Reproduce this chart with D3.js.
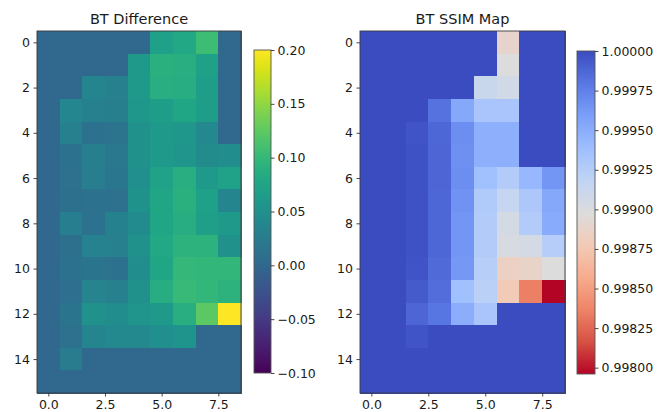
<!DOCTYPE html>
<html>
<head>
<meta charset="utf-8">
<script src="https://cdn.jsdelivr.net/npm/d3@7"></script>
<style>
  body { margin: 0; background: #fff; }
  text { font-family: "DejaVu Sans", sans-serif; fill: #1a1a1a; }
</style>
</head>
<body>
<svg id="chart" width="662" height="412"></svg>
<script>
// Grid dimensions and tick labels
const rowIndex = d3.range(16);
const colIndex = d3.range(9);
const xTickValues = [0, 2.5, 5, 7.5];
const yTickValues = [0, 2, 4, 6, 8, 10, 12, 14];
const diffTickValues = [-0.1, -0.05, 0, 0.05, 0.1, 0.15, 0.2];
const ssimTickValues = [0.998, 0.99825, 0.9985, 0.99875, 0.999, 0.99925, 0.9995, 0.99975, 1.0];
const diffRange = [-0.1, 0.2];
const ssimRange = [0.99796, 1.0];

// Brightness-temperature difference, one row per line
const diffValues = [
  [0, 0,     0,     0,     0,     0.069, 0.080, 0.106, 0],
  [0, 0,     0,     0,     0.062, 0.090, 0.088, 0.070, 0],
  [0, 0,     0.036, 0.030, 0.062, 0.088, 0.087, 0.066, 0],
  [0, 0.038, 0.029, 0.028, 0.060, 0.066, 0.078, 0.066, 0],
  [0, 0.030, 0.013, 0.014, 0.050, 0.062, 0.060, 0.041, 0],
  [0, 0.012, 0.028, 0.020, 0.050, 0.062, 0.057, 0.045, 0.046],
  [0, 0.011, 0.026, 0.018, 0.048, 0.073, 0.088, 0.062, 0.073],
  [0, 0.010, 0.013, 0.011, 0.052, 0.078, 0.091, 0.069, 0.036],
  [0, 0.027, 0.012, 0.031, 0.044, 0.078, 0.087, 0.068, 0.062],
  [0, 0.010, 0.033, 0.030, 0.050, 0.080, 0.093, 0.093, 0.050],
  [0, 0.012, 0.016, 0.013, 0.046, 0.078, 0.100, 0.098, 0.098],
  [0, 0.007, 0.035, 0.030, 0.050, 0.087, 0.102, 0.098, 0.093],
  [0, 0.015, 0.050, 0.046, 0.057, 0.062, 0.088, 0.124, 0.200],
  [0, 0.011, 0.036, 0.041, 0.041, 0.048, 0.055, 0,     0],
  [0, 0.025, 0,     0,     0,     0,     0,     0,     0],
  [0, 0,     0,     0,     0,     0,     0,     0,     0]
];

// Brightness-temperature SSIM map
const ssimValues = [
  [1, 1, 1,       1,       1,       1,       0.99889, 1,       1],
  [1, 1, 1,       1,       1,       1,       0.99898, 1,       1],
  [1, 1, 1,       1,       1,       0.99912, 0.99906, 1,       1],
  [1, 1, 1,       0.99982, 0.99953, 0.99932, 0.99932, 1,       1],
  [1, 1, 0.99996, 0.99987, 0.99968, 0.99948, 0.99948, 1,       1],
  [1, 1, 0.99997, 0.99988, 0.99967, 0.99949, 0.99949, 1,       1],
  [1, 1, 0.99997, 0.99988, 0.99968, 0.99937, 0.99927, 0.99943, 0.99964],
  [1, 1, 0.99997, 0.99987, 0.99966, 0.99928, 0.99914, 0.99930, 0.99953],
  [1, 1, 0.99997, 0.99987, 0.99964, 0.99927, 0.99904, 0.99927, 0.99951],
  [1, 1, 0.99997, 0.99987, 0.99964, 0.99927, 0.99902, 0.99904, 0.99925],
  [1, 1, 0.99996, 0.99986, 0.99963, 0.99924, 0.99884, 0.99887, 0.99898],
  [1, 1, 0.99993, 0.99984, 0.99937, 0.99922, 0.99878, 0.99835, 0.99796],
  [1, 1, 0.99988, 0.99980, 0.99950, 0.99932, 1,       1,       1],
  [1, 1, 0.99996, 1,       1,       1,       1,       1,       1],
  [1, 1, 1,       1,       1,       1,       1,       1,       1],
  [1, 1, 1,       1,       1,       1,       1,       1,       1]
];

// Diverging palette anchors (blue -> grey -> red)
const coolwarmStops = ["#3b4cc0", "#5977e3", "#7b9ff9", "#9ebeff", "#c0d4f5", "#dddcdc",
                       "#f2cbb7", "#f7ac8e", "#ee8468", "#d65244", "#b40426"];
const coolwarm = d3.piecewise(d3.interpolateRgb, coolwarmStops);

const svg = d3.select("#chart");
const defs = svg.append("defs");
const FONT = 12.5;

function drawHeatmap(opt) {
  const x = d3.scaleLinear().domain([-0.5, colIndex.length - 0.5]).range([opt.left, opt.right]);
  const y = d3.scaleLinear().domain([-0.5, rowIndex.length - 0.5]).range([opt.top, opt.bottom]);
  const g = svg.append("g");

  const cells = [];
  rowIndex.forEach(r => colIndex.forEach(c => cells.push({ r, c, v: opt.values[r][c] })));
  g.selectAll("rect.cell").data(cells).join("rect")
    .attr("class", "cell")
    .attr("x", d => x(d.c - 0.5))
    .attr("y", d => y(d.r - 0.5))
    .attr("width", d => x(d.c + 0.5) - x(d.c - 0.5) + 0.6)
    .attr("height", d => y(d.r + 0.5) - y(d.r - 0.5) + 0.6)
    .attr("shape-rendering", "crispEdges")
    .attr("fill", d => opt.color(d.v));

  g.append("rect")
    .attr("x", opt.left).attr("y", opt.top)
    .attr("width", opt.right - opt.left).attr("height", opt.bottom - opt.top)
    .attr("fill", "none").attr("stroke", "#3a3a3a").attr("stroke-width", 0.9);

  const xAxis = d3.axisBottom(x).tickValues(xTickValues).tickFormat(d3.format(".1f"))
    .tickSize(3.5).tickPadding(3);
  const gx = g.append("g").attr("transform", `translate(0,${opt.bottom})`).call(xAxis);
  const yAxis = d3.axisLeft(y).tickValues(yTickValues).tickFormat(d3.format("d"))
    .tickSize(3.5).tickPadding(3.5);
  const gy = g.append("g").attr("transform", `translate(${opt.left},0)`).call(yAxis);
  [gx, gy].forEach(a => {
    a.select(".domain").remove();
    a.selectAll(".tick line").attr("stroke", "#333").attr("stroke-width", 0.9);
    a.selectAll(".tick text").style("font-size", FONT + "px").attr("fill", "#1a1a1a");
  });
  gx.selectAll(".tick text").attr("dy", "0.72em");

  g.append("text")
    .attr("x", (opt.left + opt.right) / 2).attr("y", opt.top - 7)
    .attr("text-anchor", "middle").style("font-size", "14.5px")
    .text(opt.title);
}

function drawColorbar(opt) {
  const y = d3.scaleLinear().domain(opt.domain).range([opt.bottom, opt.top]);
  const id = opt.id;
  const grad = defs.append("linearGradient").attr("id", id)
    .attr("x1", 0).attr("y1", 1).attr("x2", 0).attr("y2", 0);
  d3.range(0, 1.0001, 0.02).forEach(t => {
    grad.append("stop").attr("offset", t)
      .attr("stop-color", opt.color(opt.domain[0] + t * (opt.domain[1] - opt.domain[0])));
  });
  const g = svg.append("g");
  g.append("rect")
    .attr("x", opt.left).attr("y", opt.top)
    .attr("width", opt.width).attr("height", opt.bottom - opt.top)
    .attr("fill", `url(#${id})`)
    .attr("stroke", "#555").attr("stroke-width", 0.9);
  const axis = d3.axisRight(y).tickValues(opt.ticks).tickFormat(opt.format)
    .tickSize(3.5).tickPadding(3);
  const ga = g.append("g").attr("transform", `translate(${opt.left + opt.width},0)`).call(axis);
  ga.select(".domain").remove();
  ga.selectAll(".tick line").attr("stroke", "#333").attr("stroke-width", 0.9);
  ga.selectAll(".tick text").style("font-size", FONT + "px").attr("fill", "#1a1a1a");
}

const viridis = v => d3.interpolateViridis((v - diffRange[0]) / (diffRange[1] - diffRange[0]));
const ssimColor = v => coolwarm(1 - (v - ssimRange[0]) / (ssimRange[1] - ssimRange[0]));

drawHeatmap({ left: 37, right: 241, top: 31, bottom: 393, values: diffValues,
              color: viridis, title: "BT Difference" });
drawColorbar({ id: "diffGrad", left: 254, width: 17, top: 50, bottom: 373,
               domain: diffRange, color: viridis, ticks: diffTickValues,
               format: d => d3.format(".2f")(d).replace("-", "\u2212") });

drawHeatmap({ left: 360, right: 565, top: 31, bottom: 393, values: ssimValues,
              color: ssimColor, title: "BT SSIM Map" });
drawColorbar({ id: "ssimGrad", left: 577, width: 18, top: 51, bottom: 374,
               domain: ssimRange, color: ssimColor, ticks: ssimTickValues,
               format: d3.format(".5f") });
</script>
</body>
</html>
